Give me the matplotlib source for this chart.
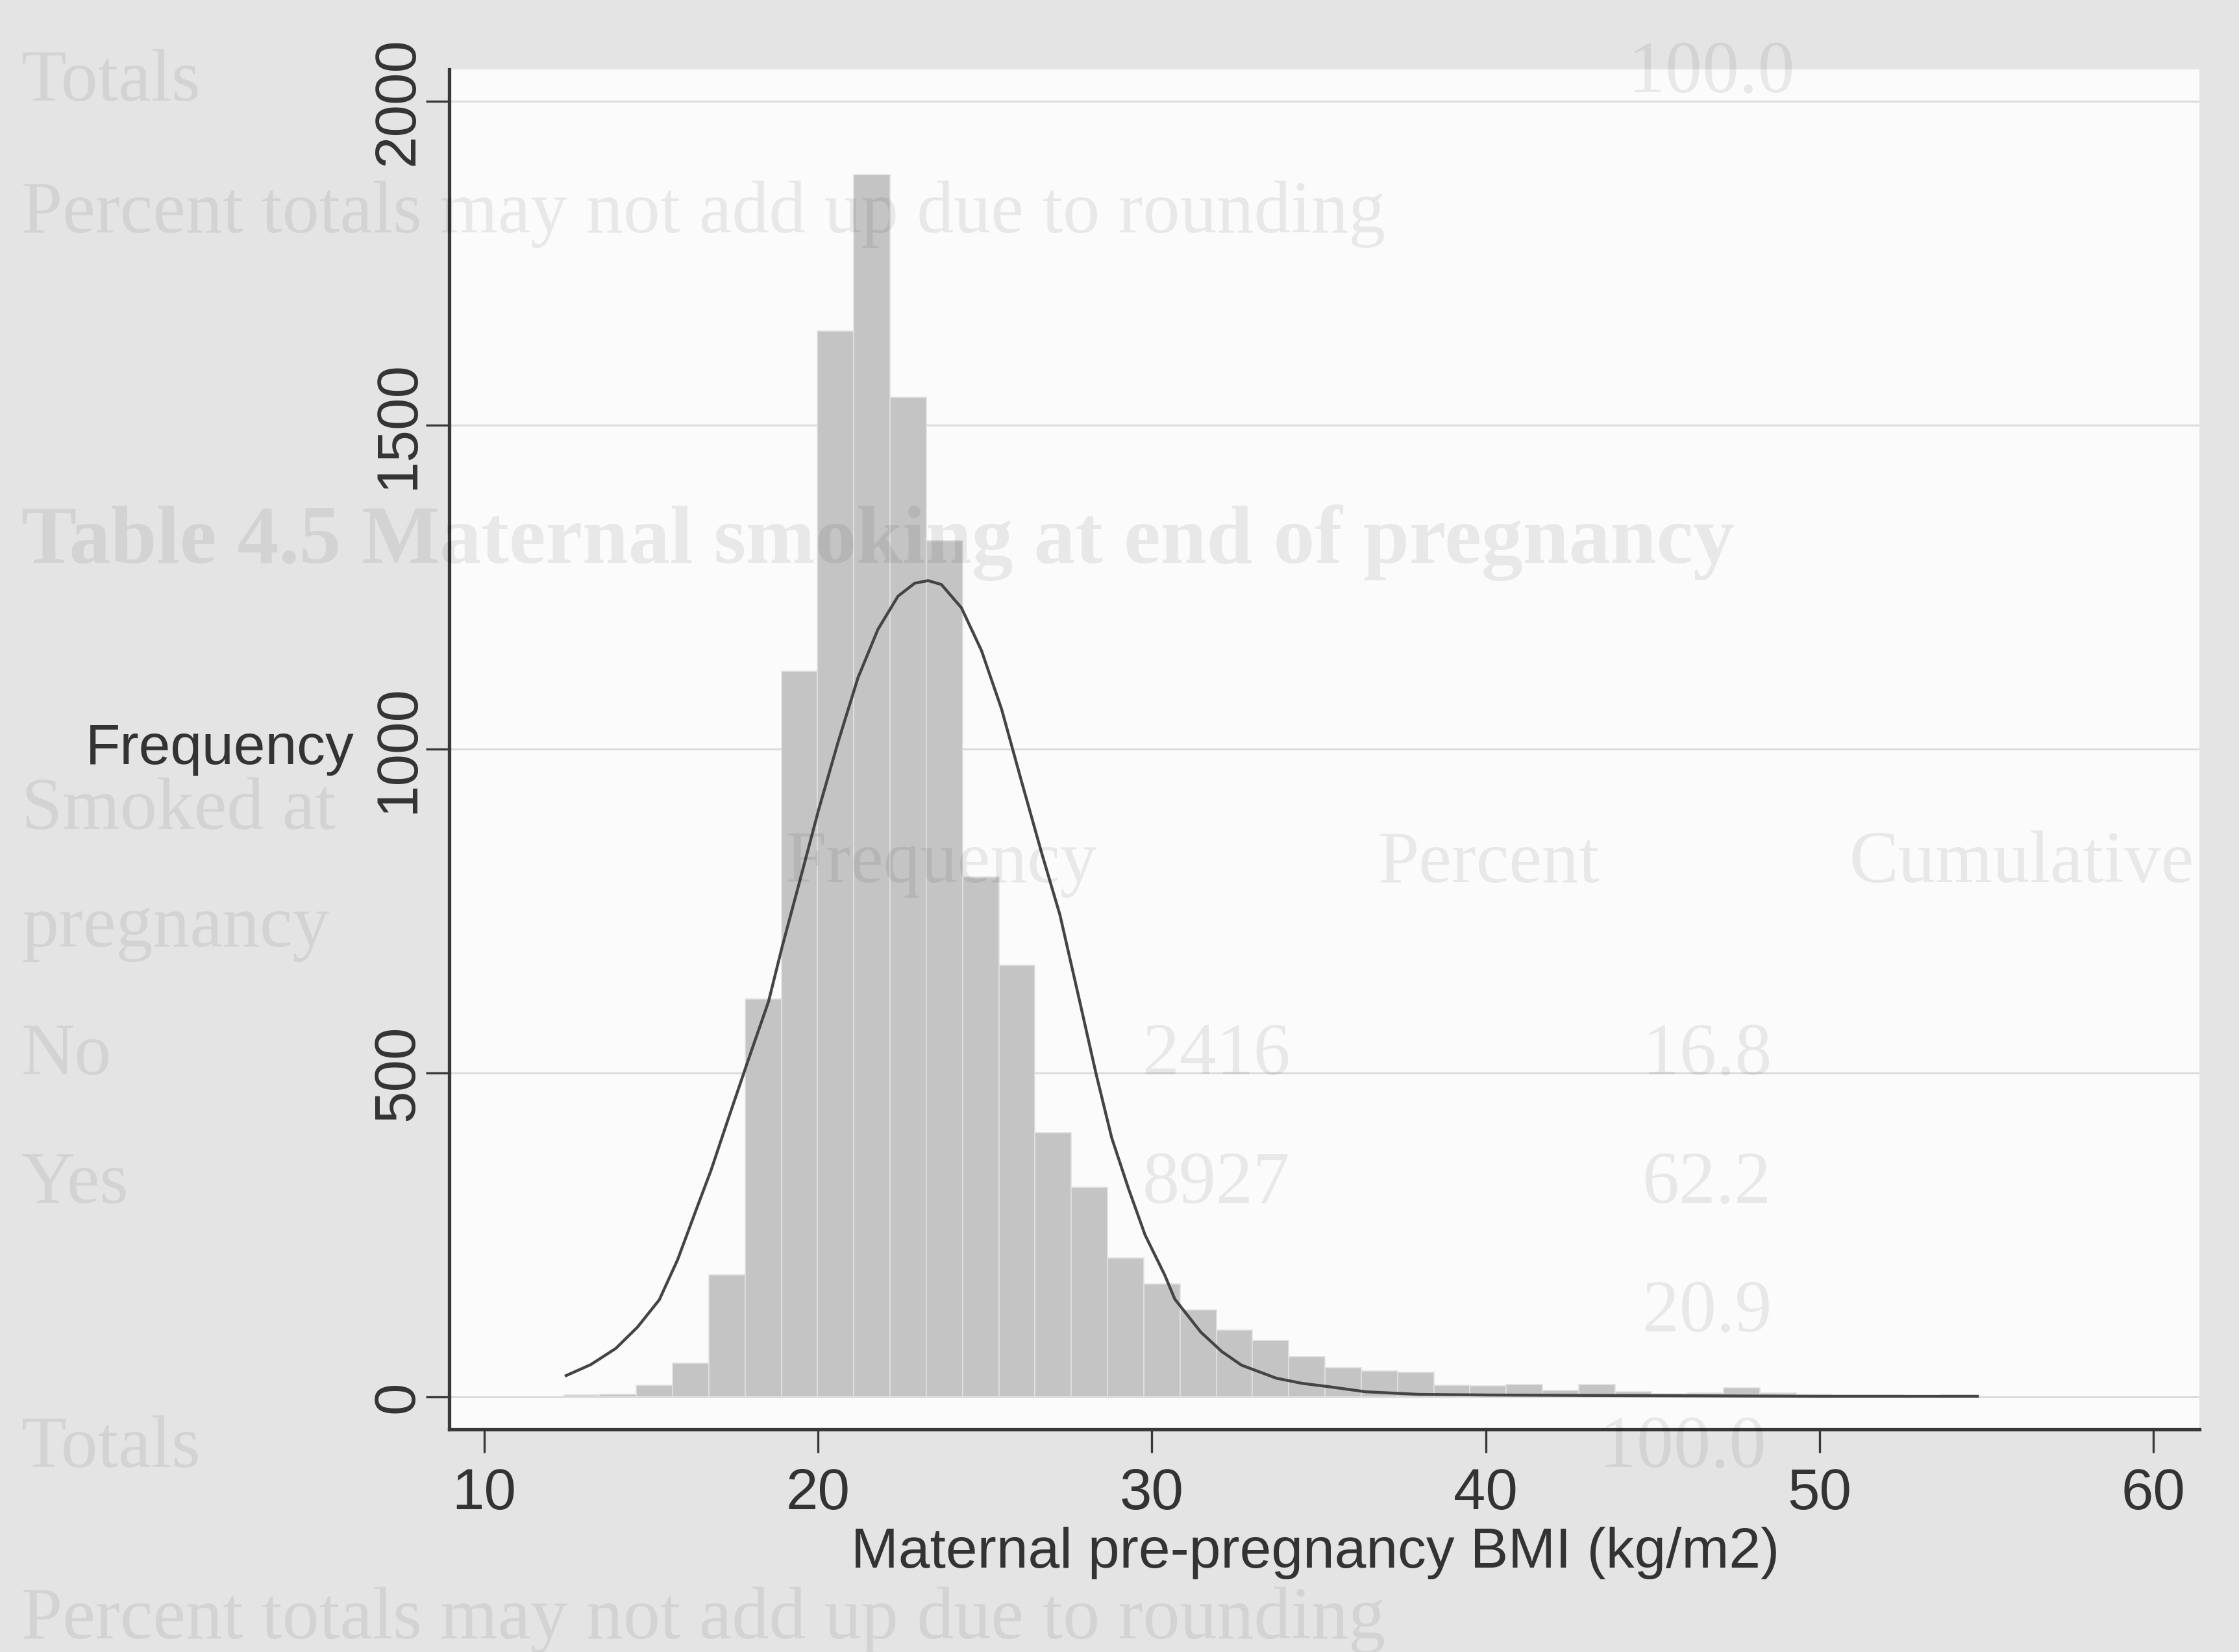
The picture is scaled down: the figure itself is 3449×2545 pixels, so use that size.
import numpy as np
import matplotlib.pyplot as plt

plt.rcParams['font.family'] = ['Liberation Sans', 'DejaVu Sans']

# histogram of maternal pre-pregnancy BMI: 39 equal bins between min and max
bmi_min = 12.39
bmi_max = 54.73
bin_counts = [3, 4, 18, 52, 188, 614, 1120, 1645, 1887, 1543,
              1322, 803, 666, 408, 324, 215, 174, 134, 103, 87,
              62, 45, 40, 38, 18, 17, 19, 10, 19, 8,
              5, 6, 14, 6, 4, 3, 3, 2, 3]

# overlaid normal density (scaled to frequency)
curve_bmi = [12.46, 13.2, 13.95, 14.6, 15.25, 15.8, 16.34, 16.8, 17.3, 17.9,
             18.52, 18.93, 19.45, 20.02, 20.6, 21.2, 21.8, 22.4, 22.9, 23.3,
             23.7, 24.3, 24.9, 25.5, 26.1, 26.7, 27.25, 27.8, 28.34, 28.8,
             29.3, 29.8, 30.39, 30.69, 31.47, 32.1, 32.69, 33.73, 34.5, 35.28,
             36.41, 38.0, 40.15, 45.0, 50.0, 54.73]
curve_freq = [33, 50, 75, 108, 150, 212, 287, 350, 427, 518,
              610, 695, 795, 906, 1010, 1110, 1185, 1236, 1256, 1260,
              1254, 1218, 1152, 1062, 950, 840, 744, 620, 497, 400,
              322, 250, 188, 151, 100, 70, 49, 29, 21, 16,
              8, 4, 3, 2, 1, 1]

x_ticks = [10, 20, 30, 40, 50, 60]
y_ticks = [0, 500, 1000, 1500, 2000]
x_title = 'Maternal pre-pregnancy BMI (kg/m2)'
y_title = 'Frequency'

# faint show-through of the printed page behind the figure
ghost_text = [
    ('Totals', 15, 58, 82, 'normal'),
    ('100.0', 1140, 52, 82, 'normal'),
    ('Percent totals may not add up due to rounding', 15, 150, 82, 'normal'),
    ('Table 4.5 Maternal smoking at end of pregnancy', 15, 380, 92, 'bold'),
    ('Smoked at', 15, 568, 82, 'normal'),
    ('Frequency', 550, 605, 82, 'normal'),
    ('Percent', 965, 605, 82, 'normal'),
    ('Cumulative', 1295, 605, 82, 'normal'),
    ('pregnancy', 15, 650, 82, 'normal'),
    ('No', 15, 740, 82, 'normal'),
    ('2416', 800, 740, 82, 'normal'),
    ('16.8', 1150, 740, 82, 'normal'),
    ('Yes', 15, 830, 82, 'normal'),
    ('8927', 800, 830, 82, 'normal'),
    ('62.2', 1150, 830, 82, 'normal'),
    ('20.9', 1150, 920, 82, 'normal'),
    ('Totals', 15, 1015, 82, 'normal'),
    ('100.0', 1120, 1015, 82, 'normal'),
    ('Percent totals may not add up due to rounding', 15, 1135, 82, 'normal'),
]

W, H = 3449, 2545
fig = plt.figure(figsize=(W / 100, H / 100), dpi=100, facecolor='#e4e4e4')
ax = fig.add_axes([692 / W, 1 - 2202 / H, (3388 - 692) / W, (2202 - 107) / H])
ax.set_facecolor('#fbfbfb')

edges = np.linspace(bmi_min, bmi_max, len(bin_counts) + 1)
ax.bar(edges[:-1], bin_counts, width=np.diff(edges), align='edge',
       color='#c4c4c4', edgecolor='#e2e2e2', linewidth=1.2, zorder=2)
ax.plot(curve_bmi, curve_freq, color='#444444', lw=3.2, zorder=3)

ax.set_xlim(8.958, 61.378)
ax.set_ylim(-50, 2049)
ax.set_xticks(x_ticks)
ax.set_yticks(y_ticks)
ax.yaxis.grid(True, color='#dcdcdc', lw=2.2)
ax.set_axisbelow(True)

for side in ['top', 'right']:
    ax.spines[side].set_visible(False)
for side in ['left', 'bottom']:
    ax.spines[side].set_linewidth(3.8)
    ax.spines[side].set_color('#383838')

ax.tick_params(length=26, width=2.4, color='#383838', labelsize=64,
               labelcolor='#333333')
ax.tick_params(axis='y', pad=0, labelrotation=90)
for lab in ax.get_yticklabels():
    lab.set_va('center')
ax.tick_params(axis='x', pad=16)

ax.set_ylabel(y_title, rotation=0, ha='right', va='center', fontsize=63,
              color='#333333')
ax.yaxis.set_label_coords((546 - 692) / 2696, 1050 / 2099)
ax.set_xlabel(x_title, fontsize=63, color='#333333')
ax.xaxis.set_label_coords((2026 - 692) / 2696, -(2352 - 2202) / 2095)

for txt, sx, sy, size, weight in ghost_text:
    fig.text(sx / 1568, 1 - sy / 1157, txt, fontsize=size, fontweight=weight,
             family='Liberation Serif', color='black', alpha=0.075,
             ha='left', va='center', zorder=5)

fig.savefig('out.png', dpi=100, facecolor=fig.get_facecolor())
